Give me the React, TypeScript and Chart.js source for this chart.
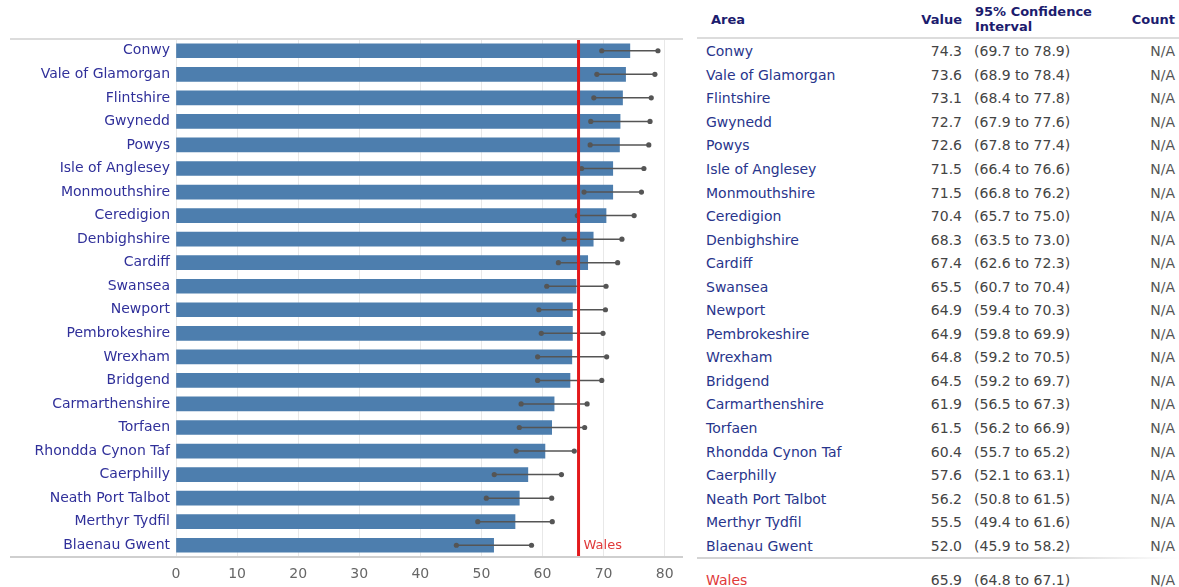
import React, { useEffect, useRef } from "react";
import { Chart, registerables } from "chart.js";

Chart.register(...registerables);

const areas = [
  "Conwy", "Vale of Glamorgan", "Flintshire", "Gwynedd", "Powys", "Isle of Anglesey",
  "Monmouthshire", "Ceredigion", "Denbighshire", "Cardiff", "Swansea", "Newport",
  "Pembrokeshire", "Wrexham", "Bridgend", "Carmarthenshire", "Torfaen",
  "Rhondda Cynon Taf", "Caerphilly", "Neath Port Talbot", "Merthyr Tydfil", "Blaenau Gwent",
];
const values = [74.3, 73.6, 73.1, 72.7, 72.6, 71.5, 71.5, 70.4, 68.3, 67.4, 65.5, 64.9, 64.9, 64.8, 64.5, 61.9, 61.5, 60.4, 57.6, 56.2, 55.5, 52.0];
const lowers = [69.7, 68.9, 68.4, 67.9, 67.8, 66.4, 66.8, 65.7, 63.5, 62.6, 60.7, 59.4, 59.8, 59.2, 59.2, 56.5, 56.2, 55.7, 52.1, 50.8, 49.4, 45.9];
const uppers = [78.9, 78.4, 77.8, 77.6, 77.4, 76.6, 76.2, 75.0, 73.0, 72.3, 70.4, 70.3, 69.9, 70.5, 69.7, 67.3, 66.9, 65.2, 63.1, 61.5, 61.6, 58.2];
const counts = areas.map(() => "N/A");
const walesLabel = "Wales";
const walesValue = 65.9;
const walesLower = 64.8;
const walesUpper = 67.1;
const walesCount = "N/A";
const xTicks = [0, 10, 20, 30, 40, 50, 60, 70, 80];

const FONT = "'DejaVu Sans', Verdana, sans-serif";
const NAVY = "#1c1c6e";
const NAME = "#30309a";
const TNAME = "#28358c";
const TOP = 39;
const BOTTOM = 557;
const ROW = (BOTTOM - TOP) / areas.length;

const overlayPlugin = {
  id: "overlay",
  beforeDraw(chart: any) {
    const { ctx } = chart;
    ctx.save();
    ctx.fillStyle = "#ffffff";
    ctx.fillRect(0, 0, chart.width, chart.height);
    ctx.restore();
  },
  afterDatasetsDraw(chart: any) {
    const { ctx, chartArea, scales } = chart;
    const xs = scales.x;
    const ys = scales.y;
    ctx.save();
    // error bars
    ctx.strokeStyle = "#555555";
    ctx.fillStyle = "#555555";
    ctx.lineWidth = 1.5;
    for (let i = 0; i < areas.length; i++) {
      const y = ys.getPixelForValue(i);
      const x1 = xs.getPixelForValue(lowers[i]);
      const x2 = xs.getPixelForValue(uppers[i]);
      ctx.beginPath();
      ctx.moveTo(x1, y);
      ctx.lineTo(x2, y);
      ctx.stroke();
      for (const x of [x1, x2]) {
        ctx.beginPath();
        ctx.arc(x, y, 2.6, 0, Math.PI * 2);
        ctx.fill();
      }
    }
    // Wales reference line
    const wx = xs.getPixelForValue(walesValue);
    ctx.strokeStyle = "#e3191c";
    ctx.lineWidth = 3;
    ctx.beginPath();
    ctx.moveTo(wx, chartArea.top);
    ctx.lineTo(wx, chartArea.bottom);
    ctx.stroke();
    ctx.fillStyle = "#e03a3a";
    ctx.font = `13px ${FONT}`;
    ctx.textBaseline = "middle";
    ctx.textAlign = "left";
    ctx.fillText(walesLabel, wx + 5, ys.getPixelForValue(areas.length - 1));
    // top and bottom rules
    ctx.strokeStyle = "#dcdcdc";
    ctx.lineWidth = 2;
    ctx.beginPath();
    ctx.moveTo(10, chartArea.top);
    ctx.lineTo(chartArea.right, chartArea.top);
    ctx.stroke();
    ctx.strokeStyle = "#cfcfcf";
    ctx.beginPath();
    ctx.moveTo(10, chartArea.bottom);
    ctx.lineTo(chartArea.right, chartArea.bottom);
    ctx.stroke();
    ctx.restore();
  },
};

function BarChart() {
  const ref = useRef<HTMLCanvasElement | null>(null);
  useEffect(() => {
    if (!ref.current) return;
    const chart = new Chart(ref.current, {
      type: "bar",
      data: {
        labels: areas,
        datasets: [
          {
            data: values,
            backgroundColor: "#4d7eae",
            borderWidth: 0,
            barThickness: 14,
          },
        ],
      },
      options: {
        indexAxis: "y",
        animation: false,
        responsive: false,
        maintainAspectRatio: false,
        layout: { padding: { left: 0, top: TOP, right: 7, bottom: 0 } },
        plugins: { legend: { display: false }, tooltip: { enabled: false } },
        scales: {
          x: {
            min: 0,
            max: 83,
            afterBuildTicks: (scale: any) => {
              scale.ticks = xTicks.map((v) => ({ value: v }));
            },
            afterFit: (scale: any) => {
              scale.height = 587 - BOTTOM;
            },
            grid: { color: "#e8e8e8", lineWidth: 1, drawTicks: false },
            border: { display: false },
            ticks: { color: "#666666", font: { family: FONT, size: 14 }, padding: 9 },
          },
          y: {
            afterFit: (scale: any) => {
              scale.width = 176;
            },
            grid: { display: false, drawTicks: false },
            border: { display: true, color: "#e6e6e6" },
            ticks: { color: NAME, font: { family: FONT, size: 14 }, padding: 6 },
          },
        },
      },
      plugins: [overlayPlugin],
    });
    return () => chart.destroy();
  }, []);
  return <canvas ref={ref} width={690} height={587} style={{ position: "absolute", left: 0, top: 0, width: 690, height: 587 }} />;
}

const cell = (extra: React.CSSProperties): React.CSSProperties => ({
  position: "absolute",
  whiteSpace: "nowrap",
  fontFamily: FONT,
  fontSize: 14,
  lineHeight: "16px",
  ...extra,
});

function Table() {
  const rows = areas.map((a, i) => {
    const cy = TOP + (i + 0.5) * ROW + 0.5;
    return (
      <React.Fragment key={a}>
        <div style={cell({ left: 706, top: cy - 8, color: TNAME })}>{a}</div>
        <div style={cell({ right: 1179 - 962, top: cy - 8, color: "#444" })}>{values[i].toFixed(1)}</div>
        <div style={cell({ left: 974, top: cy - 8, color: "#444" })}>({lowers[i].toFixed(1)} to {uppers[i].toFixed(1)})</div>
        <div style={cell({ right: 4, top: cy - 8, color: "#555" })}>{counts[i]}</div>
      </React.Fragment>
    );
  });
  const wy = 580;
  return (
    <>
      <div style={cell({ left: 711, top: 12, color: NAVY, fontWeight: "bold", fontSize: 13 })}>Area</div>
      <div style={cell({ right: 1179 - 962, top: 12, color: NAVY, fontWeight: "bold", fontSize: 13 })}>Value</div>
      <div style={cell({ left: 975, top: 4, color: NAVY, fontWeight: "bold", lineHeight: "15px", fontSize: 13 })}>
        95% Confidence
        <br />
        Interval
      </div>
      <div style={cell({ right: 4, top: 12, color: NAVY, fontWeight: "bold", fontSize: 13 })}>Count</div>
      <div style={{ position: "absolute", left: 697, top: 37, width: 482, height: 2, background: "#dcdcdc" }} />
      {rows}
      <div style={{ position: "absolute", left: 697, top: 557, width: 482, height: 2, background: "linear-gradient(to right, #d4d4d4 70%, #ffffff)" }} />
      <div style={cell({ left: 706, top: wy - 8, color: "#e03a3a" })}>{walesLabel}</div>
      <div style={cell({ right: 1179 - 962, top: wy - 8, color: "#444" })}>{walesValue.toFixed(1)}</div>
      <div style={cell({ left: 974, top: wy - 8, color: "#444" })}>({walesLower.toFixed(1)} to {walesUpper.toFixed(1)})</div>
      <div style={cell({ right: 4, top: wy - 8, color: "#555" })}>{walesCount}</div>
    </>
  );
}

export default function App() {
  return (
    <div style={{ position: "fixed", left: 0, top: 0, width: 1179, height: 587, background: "#fff", overflow: "hidden" }}>
      <div style={cell({ right: 1179 - 170, top: 18, color: NAVY, fontWeight: "bold", fontSize: 13 })}>Area</div>
      <div style={cell({ left: 176, width: 504, textAlign: "center", top: 18, color: "#666", fontSize: 14 })}>Percentage</div>
      <BarChart />
      <Table />
    </div>
  );
}
